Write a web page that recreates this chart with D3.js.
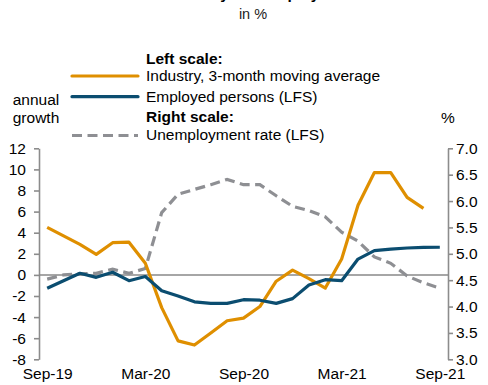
<!DOCTYPE html>
<html>
<head>
<meta charset="utf-8">
<script src="https://cdn.jsdelivr.net/npm/d3@7"></script>
<style>
  html, body { margin: 0; padding: 0; background: #fff; }
  svg { display: block; }
  text { font-family: "Liberation Sans", Arial, sans-serif; fill: #000; }
</style>
</head>
<body>
<svg id="chart" width="488" height="385"></svg>
<script>
// ---- data ----
const months = ["Sep-19","Oct-19","Nov-19","Dec-19","Jan-20","Feb-20","Mar-20","Apr-20","May-20","Jun-20","Jul-20","Aug-20",
                "Sep-20","Oct-20","Nov-20","Dec-20","Jan-21","Feb-21","Mar-21","Apr-21","May-21","Jun-21","Jul-21","Aug-21","Sep-21"];
const tickMonths = ["Sep-19","Mar-20","Sep-20","Mar-21","Sep-21"];
const industry = [4.5, 3.7, 2.9, 1.95, 3.05, 3.1, 1.1, -3.1, -6.25, -6.65, -5.5, -4.35, -4.1, -3.0, -0.6, 0.45, -0.35, -1.25, 1.5, 6.6, 9.7, 9.7, 7.35, 6.3];
const employed = [-1.27, -0.55, 0.15, -0.23, 0.25, -0.55, -0.15, -1.5, -2.0, -2.55, -2.7, -2.7, -2.35, -2.4, -2.7, -2.25, -0.95, -0.45, -0.55, 1.5, 2.3, 2.45, 2.55, 2.6, 2.62];
const unemployment = [4.52, 4.6, 4.62, 4.63, 4.71, 4.63, 4.72, 5.78, 6.13, 6.22, 6.31, 6.41, 6.31, 6.31, 6.1, 5.9, 5.82, 5.7, 5.41, 5.24, 4.94, 4.82, 4.58, 4.45, 4.35];
const leftTicks = [-8, -6, -4, -2, 0, 2, 4, 6, 8, 10, 12];
const rightTicks = [3.0, 3.5, 4.0, 4.5, 5.0, 5.5, 6.0, 6.5, 7.0];

const titleText = "Industry and employment";
const subtitleText = "in %";
const legendItems = [
  {type: "head", label: "Left scale:"},
  {type: "line", label: "Industry, 3-month moving average", color: "#DF8F00", dash: null},
  {type: "line", label: "Employed persons (LFS)", color: "#0B4D70", dash: null},
  {type: "head", label: "Right scale:"},
  {type: "line", label: "Unemployment rate (LFS)", color: "#8E8F93", dash: "10,5.5"}
];

// ---- layout ----
const svg = d3.select("#chart");
const X0 = 39, X1 = 448, YT = 148.3, YB = 359.3;
const FS = 15.5;
const axisColor = "#8C8C8C";

const x = d3.scalePoint().domain(months).range([X0, X1]).padding(0.5);
const yL = d3.scaleLinear().domain([-8, 12]).range([YB, YT]);
const yR = d3.scaleLinear().domain([3, 7]).range([YB, YT]);

// title (mostly cut off at top) + subtitle
svg.append("text").attr("x", 262).attr("y", -1.5).attr("text-anchor", "middle")
  .style("font-size", FS + "px").style("font-weight", "bold").text(titleText);
svg.append("text").attr("x", 253).attr("y", 19).attr("text-anchor", "middle")
  .style("font-size", "14.5px").style("fill", "#222").text(subtitleText);

// axes
const fmtL = d => String(d);
const fmtR = d => d.toFixed(1);
const gL = svg.append("g").attr("transform", `translate(${X0},0)`)
  .call(d3.axisLeft(yL).tickValues(leftTicks).tickSize(5).tickSizeOuter(0).tickPadding(8).tickFormat(fmtL));
const gR = svg.append("g").attr("transform", `translate(${X1},0)`)
  .call(d3.axisRight(yR).tickValues(rightTicks).tickSize(5).tickSizeOuter(0).tickPadding(3).tickFormat(fmtR));
[gL, gR].forEach(g => {
  g.selectAll("path.domain").attr("stroke", axisColor).attr("stroke-width", 1.6);
  g.selectAll(".tick line").attr("stroke", axisColor).attr("stroke-width", 1.6);
  g.selectAll(".tick text").style("font-size", FS + "px").style("font-family", "'Liberation Sans', Arial, sans-serif").attr("fill", "#000");
});

// x labels
const gX = svg.append("g").attr("transform", `translate(0,${YB})`)
  .call(d3.axisBottom(x).tickValues(tickMonths).tickSize(0).tickPadding(9));
gX.select("path.domain").remove();
gX.selectAll(".tick text").style("font-size", FS + "px").style("font-family", "'Liberation Sans', Arial, sans-serif").attr("fill", "#000");

// zero line
svg.append("line").attr("x1", X0).attr("x2", X1).attr("y1", yL(0)).attr("y2", yL(0))
  .attr("stroke", "#888").attr("stroke-width", 1.5);

// lines
const lineL = d3.line().x((d, i) => x(months[i])).y(d => yL(d));
const lineR = d3.line().x((d, i) => x(months[i])).y(d => yR(d));
svg.append("path").datum(unemployment).attr("d", lineR).attr("fill", "none")
  .attr("stroke", legendItems[4].color).attr("stroke-width", 3.2).attr("stroke-dasharray", legendItems[4].dash);
svg.append("path").datum(industry).attr("d", lineL).attr("fill", "none")
  .attr("stroke", legendItems[1].color).attr("stroke-width", 3.2).attr("stroke-linejoin", "round");
svg.append("path").datum(employed).attr("d", lineL).attr("fill", "none")
  .attr("stroke", legendItems[2].color).attr("stroke-width", 3.2).attr("stroke-linejoin", "round");

// legend
const rowsY = [63.5, 81, 102, 122, 139.5];
const lineY = [null, 76, 96.7, null, 135.5];
legendItems.forEach((it, i) => {
  svg.append("text").attr("x", 146).attr("y", rowsY[i])
    .style("font-size", FS + "px").style("font-weight", it.type === "head" ? "bold" : "normal").text(it.label);
  if (it.type === "line") {
    svg.append("line").attr("x1", 72).attr("x2", 138).attr("y1", lineY[i]).attr("y2", lineY[i])
      .attr("stroke", it.color).attr("stroke-width", 3.2)
      .attr("stroke-dasharray", it.dash).attr("stroke-linecap", it.dash ? "butt" : "round");
  }
});

// axis unit labels
svg.append("text").attr("x", 36).attr("y", 105).attr("text-anchor", "middle").style("font-size", FS + "px").text("annual");
svg.append("text").attr("x", 36).attr("y", 122.5).attr("text-anchor", "middle").style("font-size", FS + "px").text("growth");
svg.append("text").attr("x", 448).attr("y", 122.5).attr("text-anchor", "middle").style("font-size", FS + "px").text("%");
</script>
</body>
</html>
